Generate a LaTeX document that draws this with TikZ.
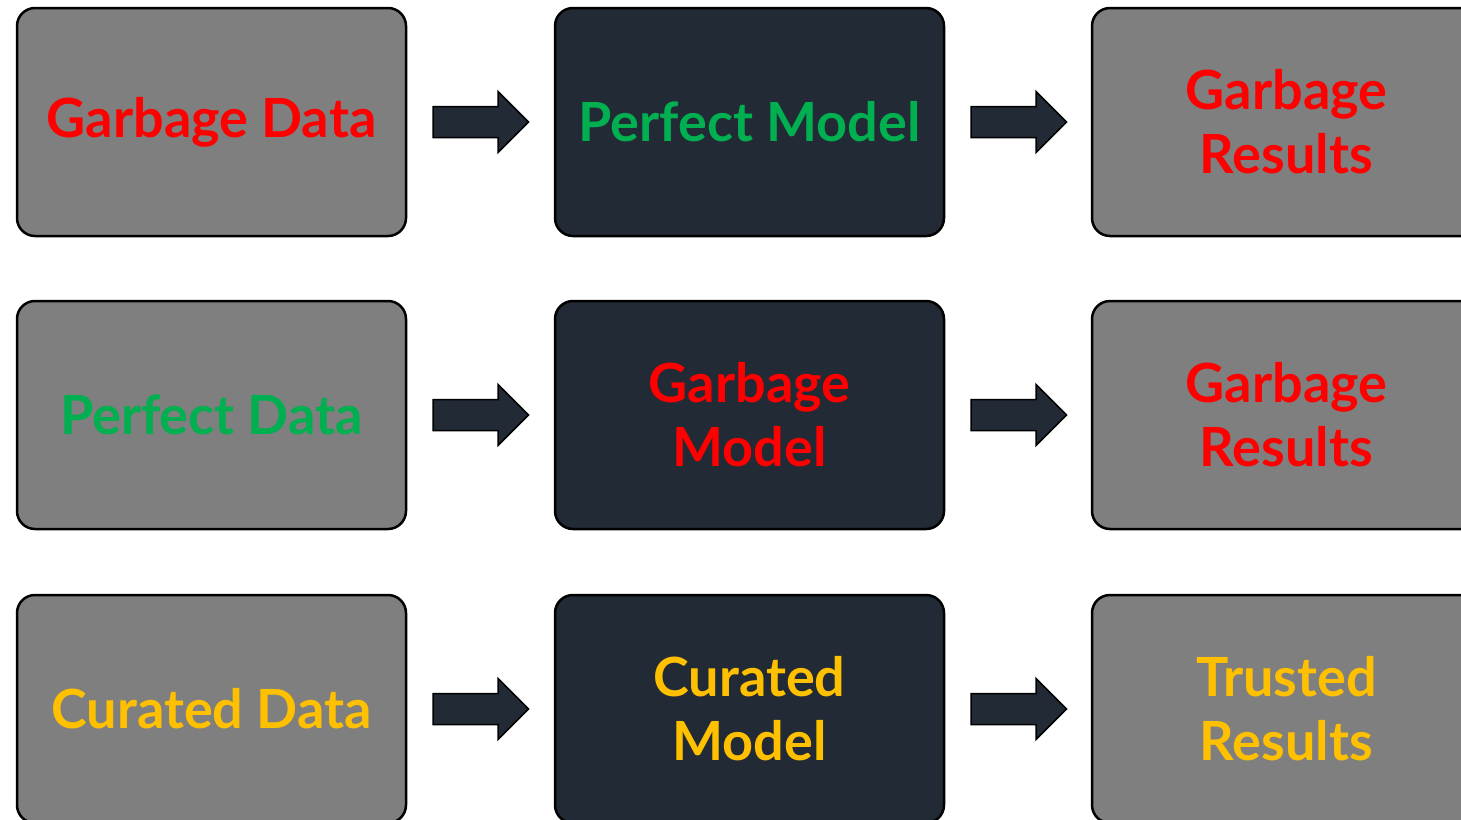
\documentclass[tikz,border=0pt]{standalone}
\usepackage{fontspec}
\setmainfont{Lato}
\usetikzlibrary{calc}
\definecolor{boxgray}{HTML}{7F7F7F}
\definecolor{boxdark}{HTML}{222A35}
\definecolor{tred}{HTML}{FF0000}
\definecolor{tgreen}{HTML}{00B050}
\definecolor{tyellow}{HTML}{FFC000}
\tikzset{
  base/.style={draw=black, line width=2.5pt, rounded corners=18pt, minimum width=389pt, minimum height=228pt, outer sep=0pt, inner sep=0pt, align=center, font=\fontsize{54}{64}\selectfont\bfseries},
  graybox/.style={base, fill=boxgray},
  darkbox/.style={base, fill=boxdark},
  blockarrow/.style={draw=black, line width=1.5pt, fill=boxdark, line join=miter},
}
\newcommand{\blkarrow}[1]{%
  \draw[blockarrow] ($(#1.east)+(27,15.5)$) -- ++(65,0) -- ++(0,15) -- ++(30.5,-30.5) -- ++(-30.5,-30.5) -- ++(0,15) -- ++(-65,0) -- cycle;}
\begin{document}
\begin{tikzpicture}[x=1pt,y=-1pt]
\useasboundingbox (0,0) rectangle (1461,819);
\clip (0,0) rectangle (1461,819);
% row 1
\node[graybox, text=tred] (a1) at (211.5,122) {Garbage Data};
\node[darkbox, text=tgreen] (b1) at (749.5,122) {Perfect Model};
\node[graybox, text=tred] (c1) at (1286.5,122) {Garbage\\Results};
% row 2
\node[graybox, text=tgreen] (a2) at (211.5,415) {Perfect Data};
\node[darkbox, text=tred] (b2) at (749.5,415) {Garbage\\Model};
\node[graybox, text=tred] (c2) at (1286.5,415) {Garbage\\Results};
% row 3
\node[graybox, text=tyellow] (a3) at (211.5,709) {Curated Data};
\node[darkbox, text=tyellow] (b3) at (749.5,709) {Curated\\Model};
\node[graybox, text=tyellow] (c3) at (1286.5,709) {Trusted\\Results};
% arrows
\blkarrow{a1}\blkarrow{b1}
\blkarrow{a2}\blkarrow{b2}
\blkarrow{a3}\blkarrow{b3}
\end{tikzpicture}
\end{document}
